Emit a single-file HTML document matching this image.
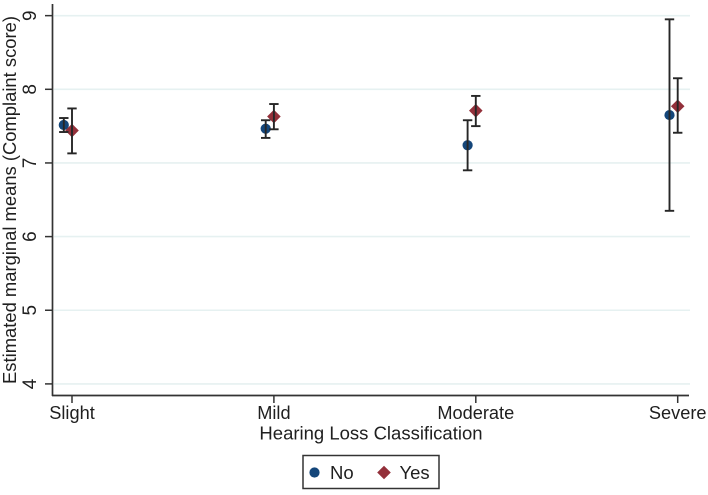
<!DOCTYPE html>
<html>
<head>
<meta charset="utf-8">
<style>
html,body{margin:0;padding:0;background:#fff;width:708px;height:495px;overflow:hidden}
svg{display:block;font-family:"Liberation Sans",sans-serif;fill:#1f1f1f;filter:blur(0.35px)}
</style>
</head>
<body>
<svg id="chart" width="708" height="495" viewBox="0 0 708 495" xmlns="http://www.w3.org/2000/svg"></svg>
<script>
const categories = ["Slight", "Mild", "Moderate", "Severe"];
const yTicks = [4, 5, 6, 7, 8, 9];
const noMean = [7.515, 7.465, 7.24, 7.65];
const noLow = [7.42, 7.34, 6.90, 6.35];
const noHigh = [7.61, 7.58, 7.58, 8.95];
const yesMean = [7.44, 7.63, 7.71, 7.77];
const yesLow = [7.13, 7.457, 7.50, 7.41];
const yesHigh = [7.74, 7.80, 7.91, 8.15];

const svg = document.getElementById('chart');
const NS = 'http://www.w3.org/2000/svg';
function make(tag, attrs, text) {
  const el = document.createElementNS(NS, tag);
  for (const k in attrs) el.setAttribute(k, attrs[k]);
  if (text !== undefined) el.textContent = text;
  svg.appendChild(el);
  return el;
}
function xScale(i) { return 72 + i * 201.9; }
function yScale(v) { return 89.3 + (8 - v) * 73.65; }
const noDodge = -8.2;
const axisColor = '#333333';
const barColor = '#262626';

yTicks.forEach(function (t) {
  const grid = make('line', {x1: 54, x2: 690, y1: yScale(t), y2: yScale(t), stroke: '#e6f1f1', 'stroke-width': 1.6});
  
  
  const tick = make('line', {x1: 45, x2: 52.5, y1: yScale(t), y2: yScale(t), stroke: axisColor, 'stroke-width': 1.5});
  
  
  const y = yScale(t);
  const label = make('text', {x: 36, y: y, 'font-size': 19, 'text-anchor': 'middle', transform: 'rotate(-90 36 ' + y + ')'}, String(t));
  
  
});

const yAxis = make('line', {x1: 52.5, x2: 52.5, y1: 4, y2: 396, stroke: axisColor, 'stroke-width': 1.7});


const xAxis = make('line', {x1: 52, x2: 689, y1: 395.5, y2: 395.5, stroke: axisColor, 'stroke-width': 1.7});



categories.forEach(function (c, i) {
  const x = xScale(i);
  const tick = make('line', {x1: x, x2: x, y1: 396, y2: 403, stroke: axisColor, 'stroke-width': 1.5});
  
  
  const label = make('text', {x: x, y: 419, 'font-size': 18.2, 'text-anchor': 'middle'}, c);
  
  
});

function errorBar(x, lo, hi, name) {
  const g = [
    {x1: x, x2: x, y1: yScale(lo), y2: yScale(hi)},
    {x1: x - 4.7, x2: x + 4.7, y1: yScale(lo), y2: yScale(lo)},
    {x1: x - 4.7, x2: x + 4.7, y1: yScale(hi), y2: yScale(hi)}
  ];
  g.forEach(function (a) {
    const l = make('line', Object.assign({stroke: barColor, 'stroke-width': 1.9}, a));
    
    
  });
}

categories.forEach(function (c, i) {
  const key = c.toLowerCase();
  const xn = xScale(i) + noDodge;
  const xy = xScale(i);
  const circle = make('circle', {cx: xn, cy: yScale(noMean[i]), r: 5.1, fill: '#14467a'});
  
  
  const cy = yScale(yesMean[i]);
  const d = 6.8;
  const diamond = make('polygon', {points: [xy - d, cy, xy, cy - d, xy + d, cy, xy, cy + d].join(' '), fill: '#93303a'});
  
  
  errorBar(xn, noLow[i], noHigh[i], 'error-bar-no-' + key);
  errorBar(xy, yesLow[i], yesHigh[i], 'error-bar-yes-' + key);
});

const yTitle = make('text', {x: 16, y: 200, 'font-size': 18.4, 'text-anchor': 'middle', transform: 'rotate(-90 16 200)'}, 'Estimated marginal means (Complaint score)');


const xTitle = make('text', {x: 371, y: 439.3, 'font-size': 18.5, 'text-anchor': 'middle'}, 'Hearing Loss Classification');


const box = make('rect', {x: 303, y: 455.5, width: 136, height: 33, fill: '#fff', stroke: '#333333', 'stroke-width': 1.5});


const legendNo = make('circle', {cx: 314.5, cy: 472.5, r: 5.1, fill: '#14467a'});


const legendNoText = make('text', {x: 330, y: 479, 'font-size': 18.5}, 'No');


const legendYes = make('polygon', {points: '377.2,472.5 384,465.7 390.8,472.5 384,479.3', fill: '#93303a'});


const legendYesText = make('text', {x: 399.5, y: 479, 'font-size': 18.5}, 'Yes');


</script>
</body>
</html>
